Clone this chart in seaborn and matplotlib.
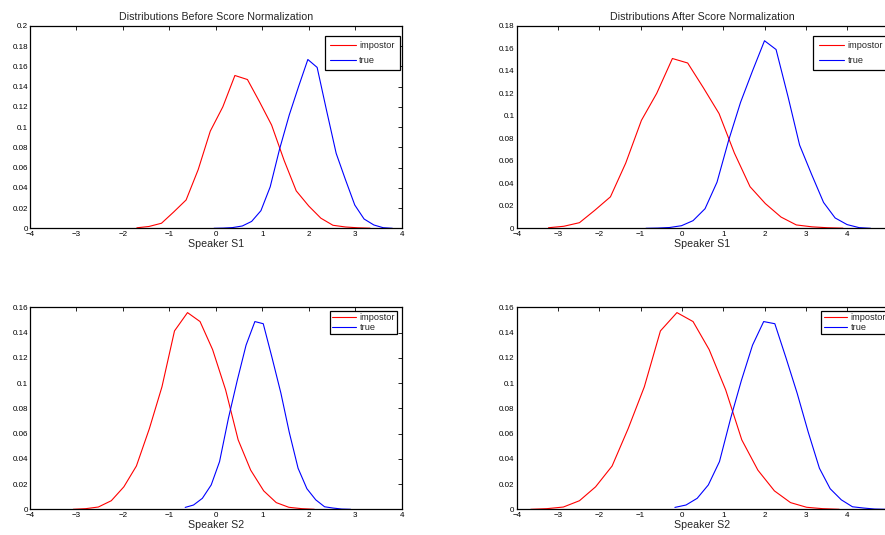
import matplotlib
matplotlib.use('Agg')
import matplotlib.pyplot as plt
import seaborn as sns
from matplotlib.ticker import MultipleLocator, FuncFormatter

# histogram curves: bin centres (x) and relative frequency (y)
# speaker S1
imp_y_s1 = [0.0005, 0.0018, 0.005, 0.016, 0.028, 0.058, 0.096, 0.120, 0.151, 0.147,
            0.125, 0.102, 0.067, 0.037, 0.022, 0.010, 0.003, 0.0013, 0.0005, 0.0001]
true_y_s1 = [0.0, 0.0002, 0.0007, 0.0023, 0.0068, 0.0174, 0.041, 0.078, 0.112, 0.140,
             0.1668, 0.159, 0.117, 0.074, 0.048, 0.023, 0.0092, 0.0033, 0.0006, 0.0]
imp_x_s1_before = [-1.70, -1.44, -1.17, -0.91, -0.64, -0.38, -0.12, 0.15, 0.41, 0.68,
                   0.94, 1.20, 1.47, 1.73, 2.00, 2.26, 2.52, 2.79, 3.05, 3.32]
true_x_s1_before = [-0.04, 0.16, 0.36, 0.57, 0.77, 0.97, 1.17, 1.37, 1.58, 1.78,
                    1.98, 2.18, 2.38, 2.59, 2.79, 2.99, 3.19, 3.40, 3.60, 3.80]
imp_x_s1_after = [-3.23, -2.86, -2.48, -2.11, -1.73, -1.36, -0.98, -0.61, -0.23, 0.14,
                  0.52, 0.90, 1.27, 1.65, 2.02, 2.40, 2.77, 3.15, 3.52, 3.90]
true_x_s1_after = [-0.87, -0.59, -0.30, -0.01, 0.27, 0.56, 0.85, 1.13, 1.42, 1.71,
                   2.00, 2.28, 2.57, 2.85, 3.14, 3.43, 3.71, 4.00, 4.29, 4.57]

# speaker S2
imp_y_s2 = [0.0, 0.0005, 0.0018, 0.0068, 0.0178, 0.0343, 0.064, 0.097, 0.1413, 0.1558,
            0.1487, 0.1265, 0.0946, 0.055, 0.031, 0.0146, 0.0053, 0.0016, 0.0005, 0.0]
true_y_s2 = [0.0015, 0.0034, 0.0087, 0.0193, 0.0378, 0.072, 0.102, 0.130, 0.1487, 0.147,
             0.120, 0.092, 0.061, 0.0325, 0.0163, 0.0075, 0.0020, 0.0010, 0.0002, 0.0]
imp_x_s2_before = [-3.07, -2.80, -2.53, -2.25, -1.98, -1.71, -1.43, -1.16, -0.89, -0.61,
                   -0.34, -0.07, 0.21, 0.48, 0.75, 1.03, 1.30, 1.57, 1.85, 2.12]
true_x_s2_before = [-0.66, -0.48, -0.29, -0.10, 0.08, 0.27, 0.46, 0.65, 0.84, 1.02,
                    1.21, 1.40, 1.58, 1.77, 1.96, 2.15, 2.34, 2.52, 2.71, 2.90]
imp_x_s2_after = [-3.66, -3.27, -2.87, -2.48, -2.09, -1.69, -1.30, -0.91, -0.52, -0.12,
                  0.27, 0.66, 1.06, 1.45, 1.84, 2.24, 2.63, 3.02, 3.41, 3.81]
true_x_s2_after = [-0.17, 0.10, 0.37, 0.64, 0.91, 1.18, 1.44, 1.71, 1.98, 2.25,
                   2.52, 2.79, 3.06, 3.33, 3.59, 3.86, 4.13, 4.40, 4.67, 4.94]

labels = ['impostor', 'true']
titles = ['Distributions Before Score Normalization', 'Distributions After Score Normalization']

sns.set_style('white')
plt.rcParams['font.family'] = ['Liberation Sans', 'DejaVu Sans']
plt.rcParams['axes.linewidth'] = 0.9


def xfmt(v, pos):
    # the right panels run off the page, so the last label never shows
    if v > 4.5:
        return ''
    return '\u2212%g' % -v if v < 0 else '%g' % v


def style_axes(ax, xlim, ylim, xlabel, cut_right=False):
    ax.set_xlim(*xlim)
    ax.set_ylim(*ylim)
    ax.xaxis.set_major_locator(MultipleLocator(1))
    ax.xaxis.set_major_formatter(FuncFormatter(xfmt))
    ax.yaxis.set_major_locator(MultipleLocator(0.02))
    ax.yaxis.set_major_formatter(FuncFormatter(lambda v, p: '%g' % round(v, 2)))
    ax.tick_params(direction='in', top=True, right=not cut_right, length=2.6, width=0.6,
                   labelsize=5.8, colors='black')
    ax.tick_params(axis='x', pad=2.2)
    ax.tick_params(axis='y', pad=1.5)
    for s in ax.spines.values():
        s.set_visible(True)
        s.set_color('black')
    ax.set_xlabel(xlabel, fontsize=7.7, labelpad=0.3)
    ax.set_ylabel('')


def draw(ax, ix, iy, tx, ty, big_legend, anchor):
    sns.lineplot(x=ix, y=iy, color='#ff0000', linewidth=0.8, label=labels[0],
                 estimator=None, sort=False, ax=ax)
    sns.lineplot(x=tx, y=ty, color='#0000ff', linewidth=0.8, label=labels[1],
                 estimator=None, sort=False, ax=ax)
    leg = ax.legend(loc='upper right', bbox_to_anchor=anchor, borderaxespad=0,
                    fontsize=6.6, frameon=True, fancybox=False,
                    labelspacing=0.6 if big_legend else 0.12,
                    borderpad=0.6 if big_legend else 0.25,
                    handlelength=2.8 if big_legend else 2.6,
                    handletextpad=0.35)
    leg.get_frame().set_edgecolor('black')
    leg.get_frame().set_linewidth(0.9)
    leg.get_frame().set_alpha(1)


fig = plt.figure(figsize=(8.85, 5.35), dpi=100)
W, H = 885.0, 535.0
ax_w = 371.7 / W
ax_h = 202.4 / H

ax1 = fig.add_axes([30 / W, 1 - 228.3 / H, ax_w, ax_h])
ax2 = fig.add_axes([516.7 / W, 1 - 228.3 / H, ax_w, ax_h])
ax3 = fig.add_axes([30 / W, 1 - 509.3 / H, ax_w, 202 / H])
ax4 = fig.add_axes([516.7 / W, 1 - 509.3 / H, ax_w, 202 / H])

draw(ax1, imp_x_s1_before, imp_y_s1, true_x_s1_before, true_y_s1, True, (0.9955, 0.951))
style_axes(ax1, (-4, 4), (0, 0.2), 'Speaker S1')
ax1.set_title(titles[0], fontsize=7.7, pad=4)

draw(ax2, imp_x_s1_after, imp_y_s1, true_x_s1_after, true_y_s1, True, (1.0, 0.951))
style_axes(ax2, (-4, 5), (0, 0.18), 'Speaker S1', cut_right=True)
ax2.set_title(titles[1], fontsize=7.7, pad=4)

draw(ax3, imp_x_s2_before, imp_y_s2, true_x_s2_before, true_y_s2, False, (0.988, 0.983))
style_axes(ax3, (-4, 4), (0, 0.16), 'Speaker S2')

draw(ax4, imp_x_s2_after, imp_y_s2, true_x_s2_after, true_y_s2, False, (1.0, 0.983))
style_axes(ax4, (-4, 5), (0, 0.16), 'Speaker S2', cut_right=True)

fig.savefig('out.png', dpi=100)
